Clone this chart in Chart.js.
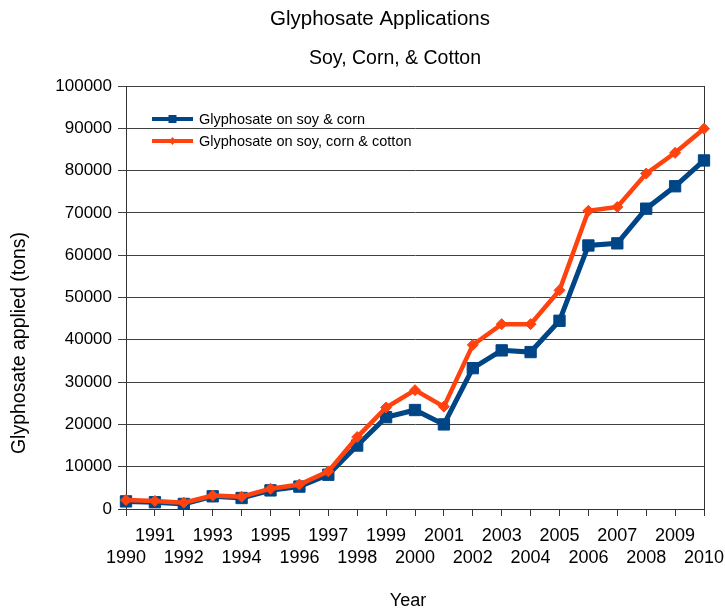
<!DOCTYPE html>
<html>
<head>
<meta charset="utf-8">
<script src="https://cdn.jsdelivr.net/npm/chart.js@4/dist/chart.umd.min.js"></script>
<style>
  html, body { margin: 0; padding: 0; background: #ffffff; }
  #wrap { width: 725px; height: 613px; position: relative; }
</style>
</head>
<body>
<div id="wrap"><canvas id="c" width="725" height="613"></canvas></div>
<script>
// ---- Data ----
const years = [1990, 1991, 1992, 1993, 1994, 1995, 1996, 1997, 1998, 1999, 2000,
               2001, 2002, 2003, 2004, 2005, 2006, 2007, 2008, 2009, 2010];
const soyCorn = [1800, 1600, 1200, 3000, 2600, 4400, 5300, 8100, 15000, 21700, 23400,
                 20000, 33300, 37500, 37100, 44500, 62300, 62800, 71000, 76300, 82400];
const soyCornCotton = [2100, 1900, 1500, 3200, 2900, 4800, 5800, 8900, 17000, 24000, 28100,
                       24200, 38800, 43700, 43700, 51700, 70500, 71400, 79300, 84200, 89900];
const seriesNames = ['Glyphosate on soy & corn', 'Glyphosate on soy, corn & cotton'];
const yTicks = [0, 10000, 20000, 30000, 40000, 50000, 60000, 70000, 80000, 90000, 100000];
const titleText = 'Glyphosate Applications';
const subtitleText = 'Soy, Corn, & Cotton';
const yTitle = 'Glyphosate applied (tons)';
const xTitle = 'Year';

// staggered labels: odd years on first row, even years on second row
const xLabels = years.map(y => (y % 2 === 1) ? [String(y)] : ['', String(y)]);

const BLUE = '#004586';
const ORANGE = '#ff420e';
const FONT = "'Liberation Sans', Arial, sans-serif";

const decorations = {
  id: 'decorations',
  beforeDatasetsDraw(chart) {
    const {ctx, chartArea} = chart;
    ctx.save();
    ctx.strokeStyle = '#333';
    ctx.lineWidth = 1;
    ctx.beginPath();
    ctx.moveTo(Math.round(chartArea.right) + 0.5, chartArea.top);
    ctx.lineTo(Math.round(chartArea.right) + 0.5, chartArea.bottom);
    ctx.stroke();
    ctx.restore();
  },
  afterDatasetsDraw(chart) {
    const ctx = chart.ctx;
    const rows = [
      { ds: chart.data.datasets[0], y: 119, style: 'rect' },
      { ds: chart.data.datasets[1], y: 141, style: 'rectRot' }
    ];
    ctx.save();
    rows.forEach(r => {
      ctx.strokeStyle = r.ds.borderColor;
      ctx.lineWidth = 4;
      ctx.beginPath();
      ctx.moveTo(152, r.y);
      ctx.lineTo(193, r.y);
      ctx.stroke();
      ctx.fillStyle = r.ds.borderColor;
      ctx.beginPath();
      if (r.style === 'rect') {
        ctx.rect(172.5 - 4, r.y - 4, 8, 8);
      } else {
        ctx.moveTo(172.5, r.y - 4);
        ctx.lineTo(176, r.y);
        ctx.lineTo(172.5, r.y + 4);
        ctx.lineTo(169, r.y);
        ctx.closePath();
      }
      ctx.fill();
      ctx.fillStyle = '#000';
      ctx.font = '14.5px ' + FONT;
      ctx.textBaseline = 'middle';
      ctx.textAlign = 'left';
      ctx.fillText(r.ds.label, 199, r.y + 0.5);
    });
    ctx.restore();
  },
  afterDraw(chart) {
    const ctx = chart.ctx;
    ctx.save();
    ctx.fillStyle = '#000';
    ctx.textAlign = 'center';
    ctx.textBaseline = 'middle';
    ctx.font = '20.5px ' + FONT;
    ctx.fillText(titleText, 380, 19);
    ctx.font = '19.5px ' + FONT;
    ctx.fillText(subtitleText, 395, 58.5);
    ctx.font = '18px ' + FONT;
    ctx.fillText(xTitle, 408, 601.5);
    ctx.translate(20, 343);
    ctx.rotate(-Math.PI / 2);
    ctx.font = '19.5px ' + FONT;
    ctx.fillText(yTitle, 0, 0);
    ctx.restore();
  }
};

Chart.defaults.font.family = FONT;
Chart.defaults.color = '#000';

new Chart(document.getElementById('c'), {
  type: 'line',
  data: {
    labels: xLabels,
    datasets: [
      {
        label: seriesNames[0],
        data: soyCorn,
        borderColor: BLUE,
        backgroundColor: BLUE,
        borderWidth: 5,
        pointStyle: 'rect',
        pointRadius: 8,
        pointBorderWidth: 1,
        pointBorderColor: BLUE,
        pointBackgroundColor: BLUE,
        tension: 0,
        order: 1
      },
      {
        label: seriesNames[1],
        data: soyCornCotton,
        borderColor: ORANGE,
        backgroundColor: ORANGE,
        borderWidth: 4.5,
        pointStyle: 'rectRot',
        pointRadius: 5.5,
        pointBorderWidth: 1,
        pointBorderColor: ORANGE,
        pointBackgroundColor: ORANGE,
        tension: 0,
        order: 0
      }
    ]
  },
  options: {
    responsive: false,
    animation: false,
    layout: { padding: { left: 0, right: 21, top: 86, bottom: 0 } },
    plugins: {
      legend: { display: false },
      tooltip: { enabled: false },
      title: { display: false },
      subtitle: { display: false }
    },
    scales: {
      x: {
        type: 'category',
        offset: false,
        afterFit(scale) {
          scale.height = 104;
          scale.paddingLeft = 0;
          scale.paddingRight = 0;
        },
        grid: {
          drawOnChartArea: false,
          drawTicks: true,
          tickLength: 7,
          color: '#333'
        },
        border: { display: true, color: '#333', width: 1 },
        ticks: {
          autoSkip: false,
          maxRotation: 0,
          minRotation: 0,
          padding: 9.5,
          color: '#000',
          font: { size: 18, family: FONT, lineHeight: 1.2 }
        }
      },
      y: {
        min: 0,
        max: 100000,
        afterBuildTicks(scale) {
          scale.ticks = yTicks.map(v => ({ value: v }));
        },
        afterFit(scale) {
          scale.width = 126;
          scale.paddingTop = 0;
          scale.paddingBottom = 0;
        },
        grid: {
          color: '#404040',
          lineWidth: 1,
          drawTicks: true,
          tickLength: 8
        },
        border: { display: true, color: '#333', width: 1 },
        ticks: {
          padding: 6,
          color: '#000',
          font: { size: 17, family: FONT },
          callback: v => String(v)
        }
      }
    }
  },
  plugins: [decorations]
});
</script>
</body>
</html>
